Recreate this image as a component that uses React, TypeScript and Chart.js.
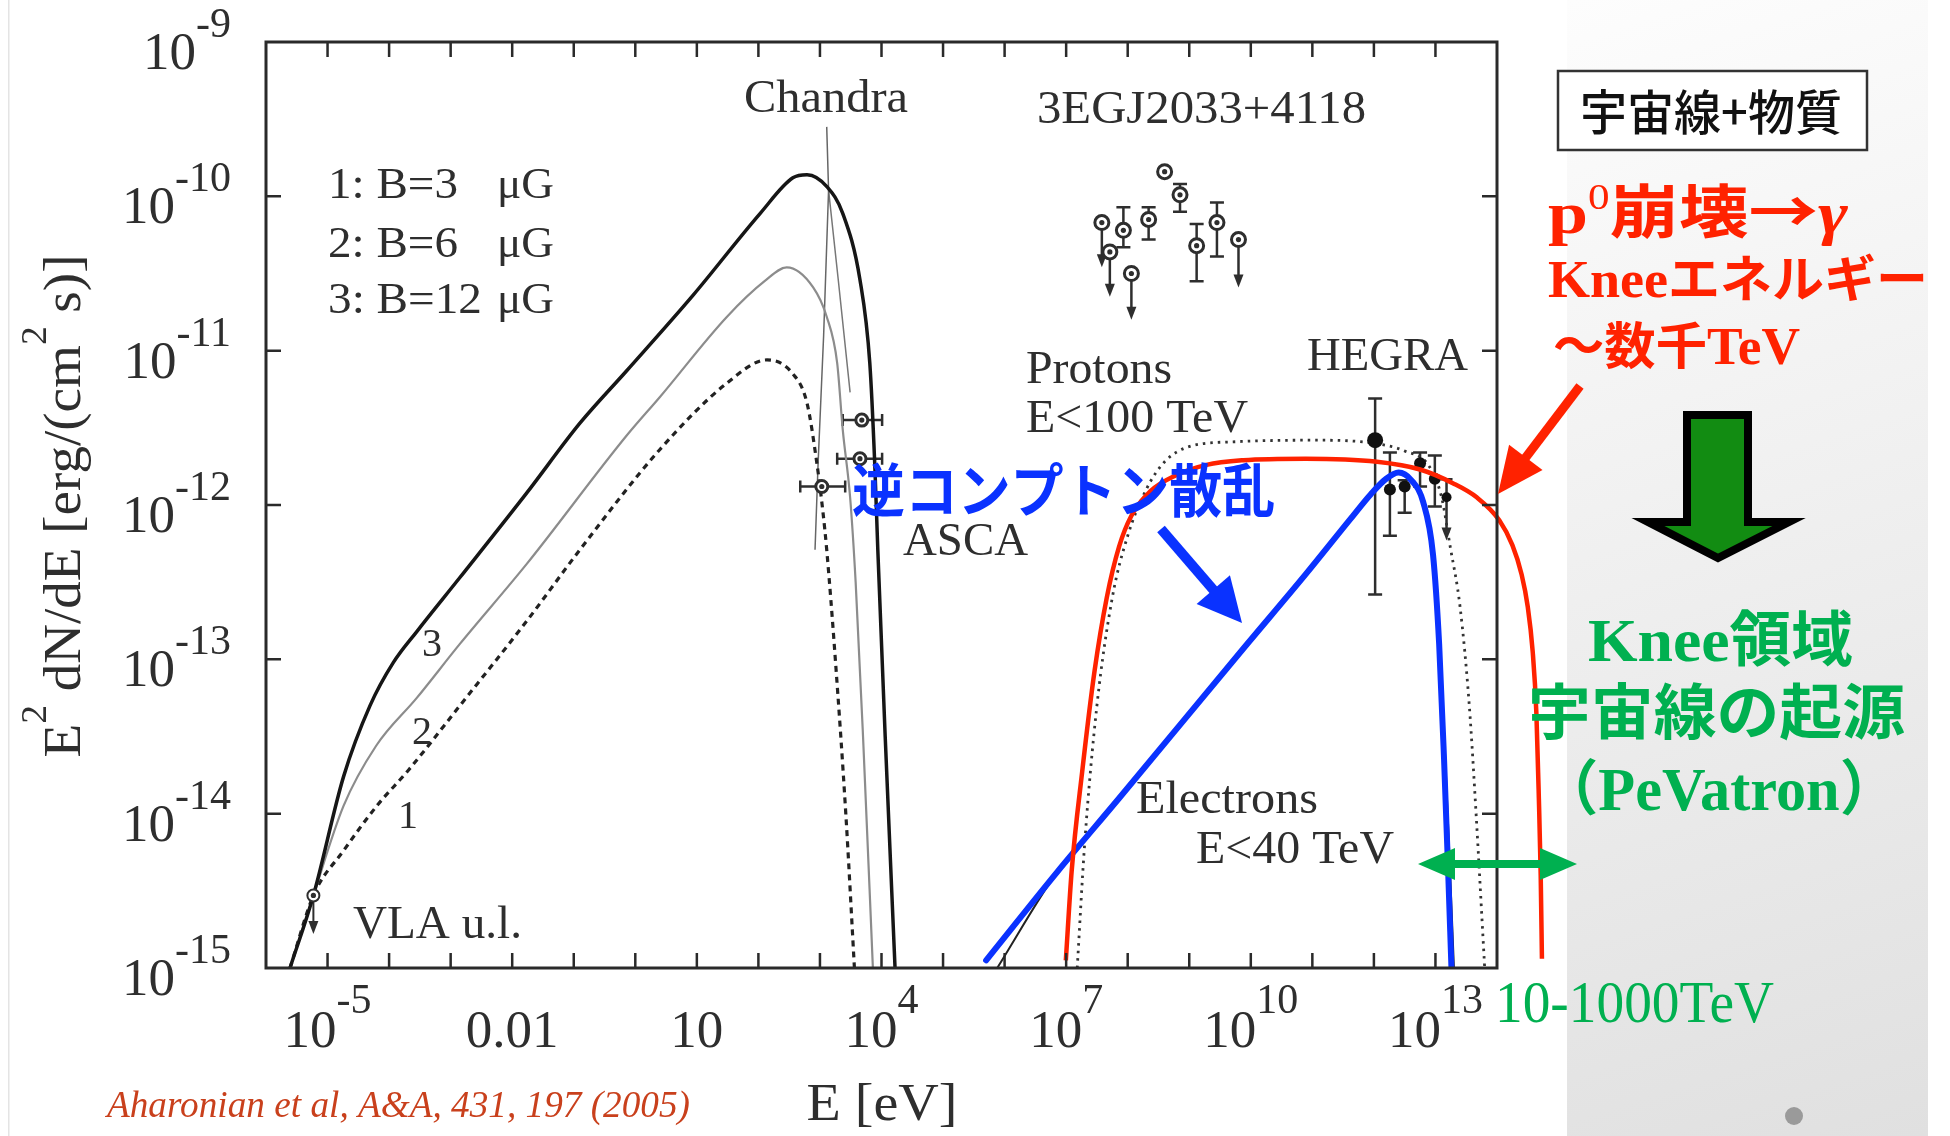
import { useEffect, useRef } from "react";
import { Chart, registerables } from "chart.js";

Chart.register(...registerables);

const W = 1950;
const H = 1136;

// ---------- axis ticks ----------
const xTickLogs = [-5, -2, 1, 4, 7, 10, 13];
const xTickLabels = ["10^-5", "0.01", "10", "10^4", "10^7", "10^10", "10^13"];
const yTickLogs = [-9, -10, -11, -12, -13, -14, -15];
const yTickLabels = ["10^-9", "10^-10", "10^-11", "10^-12", "10^-13", "10^-14", "10^-15"];

// ---------- synchrotron curves (log10 E[eV], log10 E^2 dN/dE) ----------
const sync3LogE = [-5.61, -5.23, -4.74, -4.31, -3.93, -3.55, -2.85, -1.76, -0.9, -0.14, 0.94, 2.03, 2.56, 2.79, 3.12, 3.37, 3.65, 3.81, 3.89, 3.94, 4.06, 4.22];
const sync3LogF = [-15.0, -14.53, -13.76, -13.3, -13.02, -12.82, -12.47, -11.92, -11.47, -11.13, -10.64, -10.11, -9.88, -9.86, -9.94, -10.11, -10.54, -11.08, -11.73, -12.29, -13.5, -15.0];

const sync2LogE = [-5.61, -5.23, -4.74, -4.21, -3.55, -2.85, -1.76, -0.14, 0.4, 1.49, 2.1, 2.46, 2.89, 3.11, 3.28, 3.37, 3.49, 3.58, 3.7, 3.86];
const sync2LogF = [-15.0, -14.53, -13.95, -13.56, -13.25, -12.9, -12.38, -11.55, -11.3, -10.78, -10.55, -10.46, -10.59, -10.78, -11.08, -11.51, -11.95, -12.5, -13.5, -15.0];

const sync1LogE = [-5.61, -5.23, -4.74, -4.2, -3.69, -2.85, -1.76, -0.9, 0.4, 1.49, 2.14, 2.56, 2.79, 2.95, 3.05, 3.11, 3.25, 3.42, 3.56];
const sync1LogF = [-15.0, -14.53, -14.24, -13.95, -13.72, -13.3, -12.75, -12.29, -11.64, -11.21, -11.06, -11.15, -11.34, -11.73, -12.05, -12.29, -13.0, -14.0, -15.0];

const chandraALogE = [3.11, 3.14, 3.06, 2.97, 2.92];
const chandraALogF = [-9.55, -9.96, -10.9, -11.73, -12.29];
const chandraBLogE = [3.14, 3.3, 3.49];
const chandraBLogF = [-9.96, -10.55, -11.27];

// ---------- gamma-ray models ----------
const protonLogE = [7.18, 7.3, 7.5, 7.75, 8.0, 8.3, 8.6, 9.01, 9.76, 11.0, 12.0, 12.5, 12.9, 13.1, 13.24, 13.4, 13.55, 13.66, 13.8];
const protonLogF = [-15.0, -14.2, -13.3, -12.6, -12.2, -11.9, -11.72, -11.62, -11.59, -11.58, -11.6, -11.65, -11.75, -11.95, -12.27, -12.66, -13.3, -14.0, -15.0];

const icLogE = [5.88, 6.85, 7.86, 9.88, 10.89, 11.6, 11.95, 12.2, 12.4, 12.61, 12.8, 12.96, 13.07, 13.16, 13.23, 13.3];
const icLogF = [-15.0, -14.38, -13.9, -12.93, -12.45, -12.1, -11.93, -11.83, -11.79, -11.84, -11.98, -12.32, -12.9, -13.65, -14.3, -15.0];

const blueLogE = [5.7, 6.85, 7.86, 9.88, 10.89, 11.6, 11.95, 12.2, 12.4, 12.61, 12.8, 12.96, 13.06, 13.14, 13.2, 13.26];
const blueLogF = [-14.95, -14.38, -13.9, -12.93, -12.45, -12.1, -11.93, -11.83, -11.79, -11.84, -11.98, -12.32, -12.9, -13.65, -14.3, -15.0];

const redLogE = [6.995, 7.09, 7.26, 7.46, 7.66, 7.86, 8.06, 8.37, 8.77, 9.28, 9.88, 10.89, 12.05, 12.75, 13.29, 13.67, 14.04, 14.25, 14.4, 14.5, 14.58, 14.64, 14.68, 14.71, 14.73];
const redLogF = [-14.95, -14.37, -13.73, -13.08, -12.6, -12.27, -12.07, -11.91, -11.81, -11.74, -11.71, -11.7, -11.72, -11.77, -11.86, -11.95, -12.1, -12.26, -12.45, -12.66, -12.95, -13.35, -13.9, -14.4, -14.94];

// ---------- measurements ----------
const egretLogE = [7.58, 7.71, 7.93, 8.06, 8.34, 8.6, 8.85, 9.12, 9.45, 9.8];
const egretLogF = [-10.17, -10.36, -10.22, -10.5, -10.15, -9.84, -9.99, -10.32, -10.17, -10.28];
const egretLogLo = [-10.46, -10.65, -10.33, -10.8, -10.28, -9.84, -10.1, -10.55, -10.39, -10.59];
const egretLogHi = [-10.17, -10.36, -10.07, -10.5, -10.07, -9.84, -9.92, -10.18, -10.04, -10.28];
const egretUL = [1, 1, 0, 1, 0, 0, 0, 0, 0, 1];

const ascaLogE = [3.03, 3.65, 3.68];
const ascaLogF = [-11.88, -11.7, -11.45];
const ascaLogELo = [2.68, 3.28, 3.37];
const ascaLogEHi = [3.41, 4.01, 4.01];

const hegraLogE = [12.02, 12.26, 12.5, 12.75, 12.99, 13.18];
const hegraLogF = [-11.58, -11.9, -11.88, -11.73, -11.83, -11.95];
const hegraLogLo = [-12.58, -12.2, -12.05, -11.88, -12.01, -12.23];
const hegraLogHi = [-11.31, -11.66, -11.84, -11.66, -11.68, -11.95];
const hegraUL = [0, 0, 0, 0, 0, 1];

const vlaLogE = [-5.23];
const vlaLogF = [-14.53];
const vlaLogLo = [-14.78];

const X_MIN = 1e-6;
const X_MAX = 1e14;
const Y_MIN = 1e-15;
const Y_MAX = 1e-9;

const P = (l: number) => Math.pow(10, l);
const pts = (le: number[], lf: number[]) => le.map((e, i) => ({ x: P(e), y: P(lf[i]) }));

const SERIF = "'Liberation Serif', 'Times New Roman', serif";
const CJK = "'Noto Sans CJK JP', 'Noto Sans', sans-serif";
const INK = "#2e2e2e";
const RED = "#ff2200";
const GREEN = "#00b050";
const BLUE = "#0a32ff";

type Run = { t: string; f: string; dy?: number };

function runsWidth(ctx: CanvasRenderingContext2D, runs: Run[]) {
  let w = 0;
  for (const r of runs) {
    ctx.font = r.f;
    w += ctx.measureText(r.t).width;
  }
  return w;
}

function drawRuns(
  ctx: CanvasRenderingContext2D,
  runs: Run[],
  x: number,
  y: number,
  color: string,
  targetW?: number,
  align: "left" | "center" | "right" = "left"
) {
  const w = runsWidth(ctx, runs);
  const sx = targetW ? targetW / w : 1;
  const tw = w * sx;
  const x0 = align === "center" ? x - tw / 2 : align === "right" ? x - tw : x;
  ctx.save();
  ctx.translate(x0, y);
  ctx.scale(sx, 1);
  ctx.fillStyle = color;
  ctx.textAlign = "left";
  ctx.textBaseline = "alphabetic";
  let cx = 0;
  for (const r of runs) {
    ctx.font = r.f;
    ctx.fillText(r.t, cx, r.dy || 0);
    cx += ctx.measureText(r.t).width;
  }
  ctx.restore();
}

function arrow(
  ctx: CanvasRenderingContext2D,
  x1: number, y1: number, x2: number, y2: number,
  color: string, shaft: number, headLen: number, headHalf: number
) {
  const dx = x2 - x1, dy = y2 - y1;
  const L = Math.hypot(dx, dy);
  const ux = dx / L, uy = dy / L;
  const bx = x2 - ux * headLen, by = y2 - uy * headLen;
  ctx.save();
  ctx.strokeStyle = color;
  ctx.fillStyle = color;
  ctx.lineWidth = shaft;
  ctx.lineCap = "butt";
  ctx.beginPath();
  ctx.moveTo(x1, y1);
  ctx.lineTo(bx + ux * 2, by + uy * 2);
  ctx.stroke();
  ctx.beginPath();
  ctx.moveTo(x2, y2);
  ctx.lineTo(bx - uy * headHalf, by + ux * headHalf);
  ctx.lineTo(bx + uy * headHalf, by - ux * headHalf);
  ctx.closePath();
  ctx.fill();
  ctx.restore();
}

function downArrowHead(ctx: CanvasRenderingContext2D, x: number, y: number) {
  ctx.beginPath();
  ctx.moveTo(x, y);
  ctx.lineTo(x - 5, y - 13);
  ctx.lineTo(x + 5, y - 13);
  ctx.closePath();
  ctx.fill();
}

const overlay = {
  id: "overlay",
  beforeDraw(chart: any) {
    const ctx: CanvasRenderingContext2D = chart.ctx;
    ctx.save();
    ctx.fillStyle = "#ffffff";
    ctx.fillRect(0, 0, W, H);
    const g = ctx.createLinearGradient(1567, 0, 1928, 1136);
    g.addColorStop(0, "#fdfdfd");
    g.addColorStop(1, "#e0e0e0");
    ctx.fillStyle = g;
    ctx.fillRect(1567, 0, 361, H);
    ctx.fillStyle = "#e4e4e4";
    ctx.fillRect(8, 0, 1.5, H);
    ctx.restore();
  },
  beforeDatasetsDraw(chart: any) {
    const ctx: CanvasRenderingContext2D = chart.ctx;
    const xs = chart.scales.x, ys = chart.scales.y;
    const X = (l: number) => xs.getPixelForValue(P(l));
    const Y = (l: number) => ys.getPixelForValue(P(l));
    ctx.save();
    ctx.strokeStyle = INK;
    ctx.fillStyle = INK;
    ctx.lineWidth = 2.5;
    // EGRET
    egretLogE.forEach((e, i) => {
      const x = X(e);
      if (egretUL[i]) {
        const y1 = Y(egretLogF[i]), y2 = Y(egretLogLo[i]);
        ctx.beginPath(); ctx.moveTo(x, y1); ctx.lineTo(x, y2 - 8); ctx.stroke();
        downArrowHead(ctx, x, y2);
      } else if (egretLogHi[i] !== egretLogLo[i]) {
        const yh = Y(egretLogHi[i]), yl = Y(egretLogLo[i]);
        ctx.beginPath(); ctx.moveTo(x, yh); ctx.lineTo(x, yl);
        ctx.moveTo(x - 7, yh); ctx.lineTo(x + 7, yh);
        ctx.moveTo(x - 7, yl); ctx.lineTo(x + 7, yl);
        ctx.stroke();
      }
    });
    // ASCA
    ascaLogE.forEach((_, i) => {
      const y = Y(ascaLogF[i]);
      const xl = X(ascaLogELo[i]), xh = X(ascaLogEHi[i]);
      ctx.beginPath(); ctx.moveTo(xl, y); ctx.lineTo(xh, y);
      ctx.moveTo(xl, y - 6); ctx.lineTo(xl, y + 6);
      ctx.moveTo(xh, y - 6); ctx.lineTo(xh, y + 6);
      ctx.stroke();
    });
    // HEGRA
    ctx.lineWidth = 2.5;
    hegraLogE.forEach((e, i) => {
      const x = X(e);
      if (hegraUL[i]) {
        const y1 = Y(hegraLogF[i]) - 18, y2 = Y(hegraLogLo[i]);
        ctx.beginPath(); ctx.moveTo(x - 6, y1); ctx.lineTo(x + 6, y1); ctx.moveTo(x, y1); ctx.lineTo(x, y2 - 8); ctx.stroke();
        downArrowHead(ctx, x, y2);
      } else {
        const yh = Y(hegraLogHi[i]), yl = Y(hegraLogLo[i]);
        ctx.beginPath(); ctx.moveTo(x, yh); ctx.lineTo(x, yl);
        ctx.moveTo(x - 7, yh); ctx.lineTo(x + 7, yh);
        ctx.moveTo(x - 7, yl); ctx.lineTo(x + 7, yl);
        ctx.stroke();
      }
    });
    // VLA upper limit
    ctx.lineWidth = 2;
    vlaLogE.forEach((e, i) => {
      const x = X(e);
      const y1 = Y(vlaLogF[i]), y2 = Y(vlaLogLo[i]);
      ctx.beginPath(); ctx.moveTo(x, y1); ctx.lineTo(x, y2 - 8); ctx.stroke();
      downArrowHead(ctx, x, y2);
    });
    ctx.restore();
  },
  afterDraw(chart: any) {
    const ctx: CanvasRenderingContext2D = chart.ctx;
    const xs = chart.scales.x, ys = chart.scales.y;
    const { left, right, top, bottom } = chart.chartArea;
    ctx.save();
    // frame
    ctx.strokeStyle = "#2a2a2a";
    ctx.lineWidth = 3;
    ctx.strokeRect(left, top, right - left, bottom - top);
    ctx.lineWidth = 2.5;
    ctx.beginPath();
    for (let d = -5; d <= 13; d++) {
      const x = xs.getPixelForValue(P(d));
      ctx.moveTo(x, bottom); ctx.lineTo(x, bottom - 15);
      ctx.moveTo(x, top); ctx.lineTo(x, top + 15);
    }
    for (let d = -14; d <= -10; d++) {
      const y = ys.getPixelForValue(P(d));
      ctx.moveTo(left, y); ctx.lineTo(left + 15, y);
      ctx.moveTo(right, y); ctx.lineTo(right - 15, y);
    }
    ctx.stroke();

    const base = `53px ${SERIF}`;
    const sup = `42px ${SERIF}`;
    // x tick labels
    xTickLogs.forEach((l, i) => {
      const x = xs.getPixelForValue(P(l));
      const parts = xTickLabels[i].split("^");
      const runs: Run[] = parts.length > 1
        ? [{ t: parts[0], f: base }, { t: parts[1], f: sup, dy: -34 }]
        : [{ t: parts[0], f: base }];
      drawRuns(ctx, runs, x, 1047, INK, undefined, "center");
    });
    // y tick labels
    yTickLogs.forEach((l, i) => {
      const y = ys.getPixelForValue(P(l));
      const parts = yTickLabels[i].split("^");
      drawRuns(ctx, [{ t: parts[0], f: base }, { t: parts[1], f: sup, dy: -32 }], 231, y + 27, INK, undefined, "right");
    });
    // axis titles
    drawRuns(ctx, [{ t: "E [eV]", f: `52px ${SERIF}` }], 882, 1120, INK, 151, "center");
    ctx.save();
    ctx.translate(80, 506);
    ctx.rotate(-Math.PI / 2);
    const tf = `53px ${SERIF}`;
    const sf = `36px ${SERIF}`;
    drawRuns(ctx, [
      { t: "E", f: tf }, { t: "2", f: sf, dy: -34 }, { t: " dN/dE [erg/(cm", f: tf },
      { t: "2", f: sf, dy: -34 }, { t: " s)]", f: tf },
    ], 0, 0, INK, 503, "center");
    ctx.restore();

    // in-plot labels
    const lf = `47px ${SERIF}`;
    const L = (t: string, x: number, y: number, w: number, f = lf) => drawRuns(ctx, [{ t, f }], x, y, INK, w);
    L("Chandra", 744, 112, 164);
    L("3EGJ2033+4118", 1037, 123, 329);
    L("1: B=3", 328, 198, 130, `45px ${SERIF}`);
    L("2: B=6", 328, 257, 130, `45px ${SERIF}`);
    L("3: B=12", 328, 313, 154, `45px ${SERIF}`);
    L("\u03bcG", 497, 198, 57, `45px ${SERIF}`);
    L("\u03bcG", 497, 257, 57, `45px ${SERIF}`);
    L("\u03bcG", 497, 313, 57, `45px ${SERIF}`);
    L("Protons", 1026, 383, 146);
    L("E<100 TeV", 1026, 432, 222);
    L("HEGRA", 1307, 370, 161);
    L("ASCA", 903, 555, 125);
    L("Electrons", 1136, 813, 182);
    L("E<40 TeV", 1196, 863, 198);
    L("VLA u.l.", 353, 938, 169);
    const nf = `40px ${SERIF}`;
    drawRuns(ctx, [{ t: "3", f: nf }], 432, 656, INK, undefined, "center");
    drawRuns(ctx, [{ t: "2", f: nf }], 422, 744, INK, undefined, "center");
    drawRuns(ctx, [{ t: "1", f: nf }], 408, 828, INK, undefined, "center");

    // blue annotation
    drawRuns(ctx, [{ t: "逆コンプトン散乱", f: `bold 58px ${CJK}` }], 852, 512, BLUE, 423);
    arrow(ctx, 1161, 529, 1242, 623, BLUE, 10, 44, 22);

    // right panel
    ctx.fillStyle = "#ffffff";
    ctx.fillRect(1558, 71, 309, 79);
    ctx.strokeStyle = "#333";
    ctx.lineWidth = 2.5;
    ctx.strokeRect(1558, 71, 309, 79);
    drawRuns(ctx, [{ t: "宇宙線+物質", f: `500 48px ${CJK}` }], 1580, 130, "#111", 262);

    const rb = `bold 60px ${SERIF}`;
    const rc = `bold 58px ${CJK}`;
    drawRuns(ctx, [
      { t: "p", f: rb }, { t: "0", f: `36px ${SERIF}`, dy: -24 }, { t: "崩壊", f: rc },
      { t: "→", f: rc }, { t: "γ", f: `bold italic 60px ${SERIF}` },
    ], 1548, 233, RED, 300);
    drawRuns(ctx, [{ t: "Knee", f: `bold 52px ${SERIF}` }, { t: "エネルギー", f: `bold 50px ${CJK}` }], 1548, 297, RED, 380);
    drawRuns(ctx, [{ t: "～数千", f: `bold 50px ${CJK}` }, { t: "TeV", f: `bold 52px ${SERIF}` }], 1553, 364, RED, 247);
    arrow(ctx, 1580, 386, 1498, 494, RED, 9, 46, 21);

    // green block arrow
    ctx.beginPath();
    ctx.moveTo(1687, 415);
    ctx.lineTo(1748, 415);
    ctx.lineTo(1748, 522);
    ctx.lineTo(1789, 522);
    ctx.lineTo(1718, 558);
    ctx.lineTo(1648, 522);
    ctx.lineTo(1687, 522);
    ctx.closePath();
    ctx.fillStyle = "#128c12";
    ctx.fill();
    ctx.lineWidth = 8;
    ctx.lineJoin = "miter";
    ctx.strokeStyle = "#000";
    ctx.stroke();

    drawRuns(ctx, [{ t: "Knee", f: `bold 62px ${SERIF}` }, { t: "領域", f: `bold 60px ${CJK}` }], 1588, 661, GREEN, 265);
    drawRuns(ctx, [{ t: "宇宙線の起源", f: `bold 60px ${CJK}` }], 1528, 734, GREEN, 377);
    drawRuns(ctx, [{ t: "（", f: `bold 60px ${CJK}` }, { t: "PeVatron", f: `bold 62px ${SERIF}` }, { t: "）", f: `bold 60px ${CJK}` }], 1540, 810, GREEN, 358);
    drawRuns(ctx, [{ t: "10-1000TeV", f: `60px ${SERIF}` }], 1495, 1022, GREEN, 279);

    // green double arrow
    ctx.strokeStyle = GREEN;
    ctx.fillStyle = GREEN;
    ctx.lineWidth = 8;
    ctx.beginPath(); ctx.moveTo(1450, 864); ctx.lineTo(1545, 864); ctx.stroke();
    ctx.beginPath(); ctx.moveTo(1418, 864); ctx.lineTo(1455, 848); ctx.lineTo(1455, 880); ctx.closePath(); ctx.fill();
    ctx.beginPath(); ctx.moveTo(1577, 864); ctx.lineTo(1540, 848); ctx.lineTo(1540, 880); ctx.closePath(); ctx.fill();

    // citation
    drawRuns(ctx, [{ t: "Aharonian et al, A&A, 431, 197 (2005)", f: `italic 38px ${SERIF}` }], 107, 1117, "#c9401c", 583);

    // slide dot
    ctx.fillStyle = "#9a9a9a";
    ctx.beginPath(); ctx.arc(1794, 1116, 9, 0, Math.PI * 2); ctx.fill();
    ctx.restore();
  },
};

function line(label: string, le: number[], lf: number[], color: string, width: number, dash: number[] = [], extra: any = {}) {
  return {
    label,
    data: pts(le, lf),
    showLine: true,
    borderColor: color,
    backgroundColor: color,
    borderWidth: width,
    borderDash: dash,
    pointRadius: 0,
    pointHoverRadius: 0,
    cubicInterpolationMode: "monotone",
    fill: false,
    ...extra,
  };
}

export default function App() {
  const ref = useRef<HTMLCanvasElement>(null);
  useEffect(() => {
    document.body.style.margin = "0";
    document.body.style.overflow = "hidden";
    const markerStyle = { showLine: false, pointStyle: "circle", pointRadius: 7, pointBorderWidth: 3, pointBackgroundColor: "#ffffff", pointBorderColor: INK, borderColor: INK, backgroundColor: "#fff" };
    const dotStyle = { showLine: false, pointStyle: "circle", pointRadius: 2.6, pointBorderWidth: 0, pointBackgroundColor: INK, borderColor: INK, backgroundColor: INK };
    const chart = new Chart(ref.current as HTMLCanvasElement, {
      type: "scatter",
      data: {
        datasets: [
          line("pi0 decay", redLogE, redLogF, RED, 4.5, [], { clip: false }),
          line("IC (highlight)", blueLogE, blueLogF, BLUE, 6, [], { borderCapStyle: "round" }),
          { label: "HEGRA", data: pts(hegraLogE, hegraLogF), showLine: false, pointRadius: [8, 6, 6, 6, 6, 5], pointBackgroundColor: "#111", pointBorderWidth: 0, backgroundColor: "#111", borderColor: "#111" },
          { label: "EGRET dot", data: pts(egretLogE, egretLogF), ...dotStyle },
          { label: "EGRET", data: pts(egretLogE, egretLogF), ...markerStyle },
          { label: "ASCA dot", data: pts(ascaLogE, ascaLogF), ...dotStyle },
          { label: "ASCA", data: pts(ascaLogE, ascaLogF), ...markerStyle, pointRadius: 6 },
          { label: "VLA dot", data: pts(vlaLogE, vlaLogF), ...dotStyle },
          { label: "VLA", data: pts(vlaLogE, vlaLogF), ...markerStyle, pointRadius: 6, pointBorderWidth: 2 },
          line("IC electrons", icLogE, icLogF, "#222", 2),
          line("Protons", protonLogE, protonLogF, "#333", 2.8, [2.5, 5]),
          line("B=12", sync3LogE, sync3LogF, "#161616", 3.5),
          line("B=6", sync2LogE, sync2LogF, "#8c8c8c", 2.2),
          line("B=3", sync1LogE, sync1LogF, "#222", 3.2, [6, 5]),
          line("Chandra a", chandraALogE, chandraALogF, "#666", 1.5, [], { cubicInterpolationMode: "default", tension: 0 }),
          line("Chandra b", chandraBLogE, chandraBLogF, "#777", 1.5, [], { cubicInterpolationMode: "default", tension: 0 }),
        ],
      },
      options: {
        responsive: false,
        animation: false,
        devicePixelRatio: 1,
        layout: { padding: { left: 0, top: 42, right: W - 1497, bottom: 0 } },
        plugins: { legend: { display: false }, tooltip: { enabled: false }, title: { display: false } },
        events: [],
        scales: {
          x: {
            type: "logarithmic",
            position: "bottom",
            bounds: "data",
            ticks: { display: false },
            grid: { display: false },
            border: { display: false },
            afterDataLimits: (s: any) => { s.min = X_MIN; s.max = X_MAX; },
            afterFit: (s: any) => { s.height = H - 968; },
          },
          y: {
            type: "logarithmic",
            position: "left",
            min: Y_MIN,
            max: Y_MAX,
            ticks: { display: false },
            grid: { display: false },
            border: { display: false },
            afterFit: (s: any) => { s.width = 266; },
          },
        },
      } as any,
      plugins: [overlay],
    } as any);
    return () => chart.destroy();
  }, []);
  return (
    <div style={{ position: "fixed", left: 0, top: 0, width: W, height: H, background: "#fff" }}>
      <canvas ref={ref} width={W} height={H} style={{ width: W, height: H, display: "block" }} />
    </div>
  );
}
